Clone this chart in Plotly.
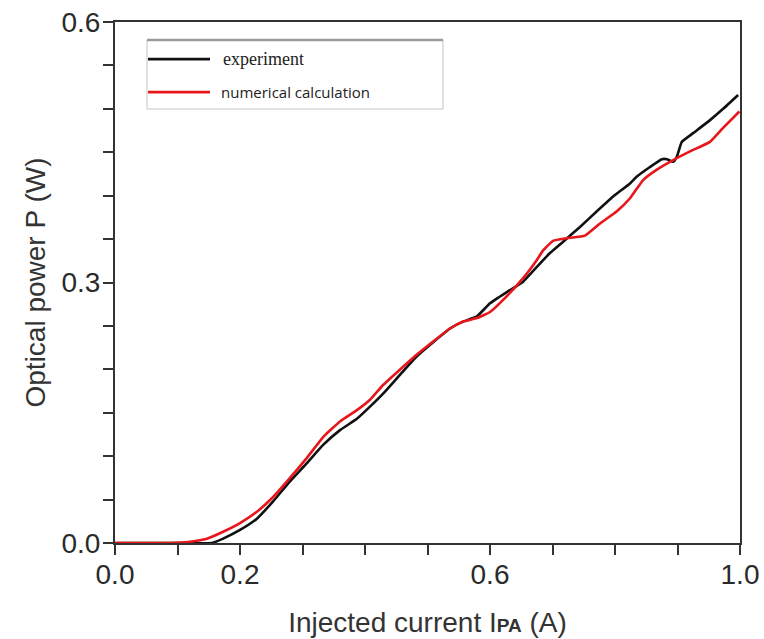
import plotly.graph_objects as go

# Experiment (black)
exp_x = [0, 0.10, 0.155, 0.173, 0.2, 0.227, 0.253, 0.28, 0.307, 0.333, 0.36, 0.387, 0.408,
         0.429, 0.483, 0.536, 0.557, 0.579, 0.6, 0.627, 0.653, 0.675, 0.696, 0.717, 0.744,
         0.771, 0.797, 0.824, 0.835, 0.856, 0.875, 0.883, 0.893, 0.899, 0.907, 0.925, 0.952,
         0.973, 0.997]
exp_y = [0, 0, 0, 0.005, 0.015, 0.028, 0.048, 0.071, 0.092, 0.113, 0.130, 0.143, 0.157,
         0.172, 0.215, 0.247, 0.255, 0.261, 0.276, 0.289, 0.301, 0.318, 0.334, 0.347, 0.364,
         0.382, 0.399, 0.414, 0.422, 0.433, 0.442, 0.442, 0.439, 0.445, 0.462, 0.472, 0.487,
         0.500, 0.516]

# Numerical calculation (red)
num_x = [0, 0.088, 0.12, 0.147, 0.173, 0.2, 0.227, 0.253, 0.28, 0.307, 0.333, 0.36, 0.387,
         0.408, 0.429, 0.483, 0.536, 0.557, 0.579, 0.6, 0.621, 0.653, 0.675, 0.685, 0.701,
         0.723, 0.752, 0.776, 0.803, 0.824, 0.845, 0.867, 0.893, 0.920, 0.952, 0.973, 0.999]
num_y = [0, 0, 0.0015, 0.005, 0.013, 0.023, 0.036, 0.053, 0.075, 0.098, 0.122, 0.140, 0.153,
         0.165, 0.182, 0.217, 0.247, 0.255, 0.259, 0.266, 0.280, 0.305, 0.326, 0.337, 0.348,
         0.351, 0.354, 0.368, 0.382, 0.397, 0.418, 0.430, 0.441, 0.451, 0.462, 0.478, 0.497]

series_names = ["experiment", "numerical calculation"]
series_colors = ["#111111", "#e8161b"]

x_tickvals = [0, 0.1, 0.2, 0.3, 0.4, 0.5, 0.6, 0.7, 0.8, 0.9, 1.0]
x_ticktext = ["0.0", "", "0.2", "", "", "", "0.6", "", "", "", "1.0"]
y_tickvals = [0, 0.05, 0.1, 0.15, 0.2, 0.25, 0.3, 0.35, 0.4, 0.45, 0.5, 0.55, 0.6]
y_ticktext = ["0.0", "", "", "", "", "", "0.3", "", "", "", "", "", "0.6"]

fig = go.Figure()
for xs, ys, nm, col in [(exp_x, exp_y, series_names[0], series_colors[0]),
                        (num_x, num_y, series_names[1], series_colors[1])]:
    fig.add_trace(go.Scatter(
        x=xs, y=ys, mode="lines", name=nm, showlegend=False,
        line=dict(color=col, width=2.6, shape="spline", smoothing=0.4),
        cliponaxis=False))

axis_common = dict(showgrid=False, zeroline=False, showline=True, linecolor="#333333",
                   linewidth=2, mirror=True, ticks="outside", ticklen=10, tickwidth=1.5,
                   tickcolor="#333333", ticklabeloverflow="allow", automargin=False,
                   tickfont=dict(family="Liberation Sans, Arial", size=28, color="#2a2a2a"))

title_font = dict(family="Liberation Sans, Arial", size=28, color="#333333")

# Legend box (drawn in paper coordinates)
shapes = [
    dict(type="rect", xref="paper", yref="paper", x0=0.0512, x1=0.5248, y0=0.833, y1=0.9654,
         line=dict(color="#c4c4c4", width=1), fillcolor="white", layer="above"),
    dict(type="line", xref="paper", yref="paper", x0=0.0512, x1=0.5248, y0=0.9654, y1=0.9654,
         line=dict(color="#9a9a9a", width=2.5), layer="above"),
    dict(type="line", xref="paper", yref="paper", x0=0.0528, x1=0.152, y0=0.9288, y1=0.9288,
         line=dict(color=series_colors[0], width=2.6), layer="above"),
    dict(type="line", xref="paper", yref="paper", x0=0.0528, x1=0.152, y0=0.8654, y1=0.8654,
         line=dict(color=series_colors[1], width=2.6), layer="above"),
]
annotations = [
    dict(xref="paper", yref="paper", x=0.1696, y=0.9288, xanchor="left", yanchor="middle",
         text=series_names[0], showarrow=False,
         font=dict(family="Liberation Serif", size=18, color="#222222")),
    dict(xref="paper", yref="paper", x=0.1664, y=0.8654, xanchor="left", yanchor="middle",
         text=series_names[1], showarrow=False,
         font=dict(family="Open Sans", size=15, color="#222222")),
]

fig.update_layout(
    width=764, height=639,
    margin=dict(l=115, r=24, t=22, b=96),
    paper_bgcolor="white", plot_bgcolor="white",
    xaxis=dict(range=[0, 1], tickmode="array", tickvals=x_tickvals, ticktext=x_ticktext,
               ticklabelstandoff=-5,
               title=dict(text="Injected current I<span style='font-size:19px'><b>PA</b></span> (A)",
                          font=title_font, standoff=24),
               **axis_common),
    yaxis=dict(range=[0, 0.6], tickmode="array", tickvals=y_tickvals, ticktext=y_ticktext,
               ticklabelstandoff=-3,
               title=dict(text="Optical power P (W)", font=title_font, standoff=8),
               **axis_common),
    shapes=shapes,
    annotations=annotations,
    showlegend=False,
)

fig.write_html("out.html", config={"displayModeBar": False},
               post_script="document.body.style.margin='0';document.body.style.overflow='hidden';")
